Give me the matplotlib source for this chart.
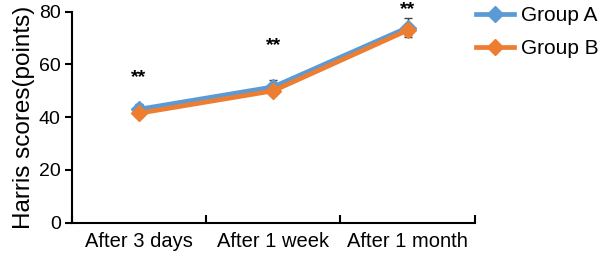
import matplotlib.pyplot as plt

plt.rcParams['font.family'] = ['Liberation Sans', 'DejaVu Sans']

periodos = ["After 3 days", "After 1 week", "After 1 month"]
grupoA = [43.0, 51.5, 74.0]
grupoB = [41.5, 50.0, 73.0]
erroA = [2.0, 2.5, 3.5]
erroB = [1.5, 1.5, 2.0]
estrelas = ["**", "**", "**"]
alturaEstrelas = [55, 67, 81]

azul = "#5B9BD5"
laranja = "#ED7D31"

fig = plt.figure(figsize=(5.98, 2.61), dpi=100)
ax = fig.add_axes([0.12, 0.147, 0.674, 0.808])

x = list(range(len(periodos)))

ax.errorbar(x, grupoA, yerr=erroA, fmt="none", ecolor="#444444", elinewidth=1, capsize=3, zorder=2)
ax.errorbar(x, grupoB, yerr=erroB, fmt="none", ecolor="#444444", elinewidth=1, capsize=3, zorder=2)
ax.plot(x, grupoA, color=azul, linewidth=3.4, marker="D", markersize=8, label="Group A", zorder=3)
ax.plot(x, grupoB, color=laranja, linewidth=3.4, marker="D", markersize=8, label="Group B", zorder=4)

for i, s in enumerate(estrelas):
    ax.text(x[i], alturaEstrelas[i], s, ha="center", va="center", fontsize=14, fontweight="bold", clip_on=False)

ax.set_xlim(-0.5, 2.5)
ax.set_ylim(0, 80)
ax.set_yticks([0, 20, 40, 60, 80])
ax.set_xticks([-0.5, 0.5, 1.5, 2.5])
ax.set_xticklabels([])
ax.set_xticks(x, minor=True)
ax.set_xticklabels(periodos, minor=True, fontsize=14.5)
ax.tick_params(axis="x", which="minor", length=0, pad=7)
ax.tick_params(axis="x", which="major", direction="in", length=6, width=1.5)
ax.tick_params(axis="y", direction="out", length=5, width=1.5, labelsize=14, pad=3)
ax.set_ylabel("Harris scores(points)", fontsize=17.5, labelpad=3)

ax.spines["top"].set_visible(False)
ax.spines["right"].set_visible(False)
ax.spines["left"].set_linewidth(1.5)
ax.spines["bottom"].set_linewidth(1.5)

fig.legend(loc="upper left", bbox_to_anchor=(0.796, 0.976), frameon=False, fontsize=15,
           borderpad=0, borderaxespad=0, handlelength=1.8, handletextpad=0.35, labelspacing=0.65)

fig.savefig("out.png", dpi=100)
